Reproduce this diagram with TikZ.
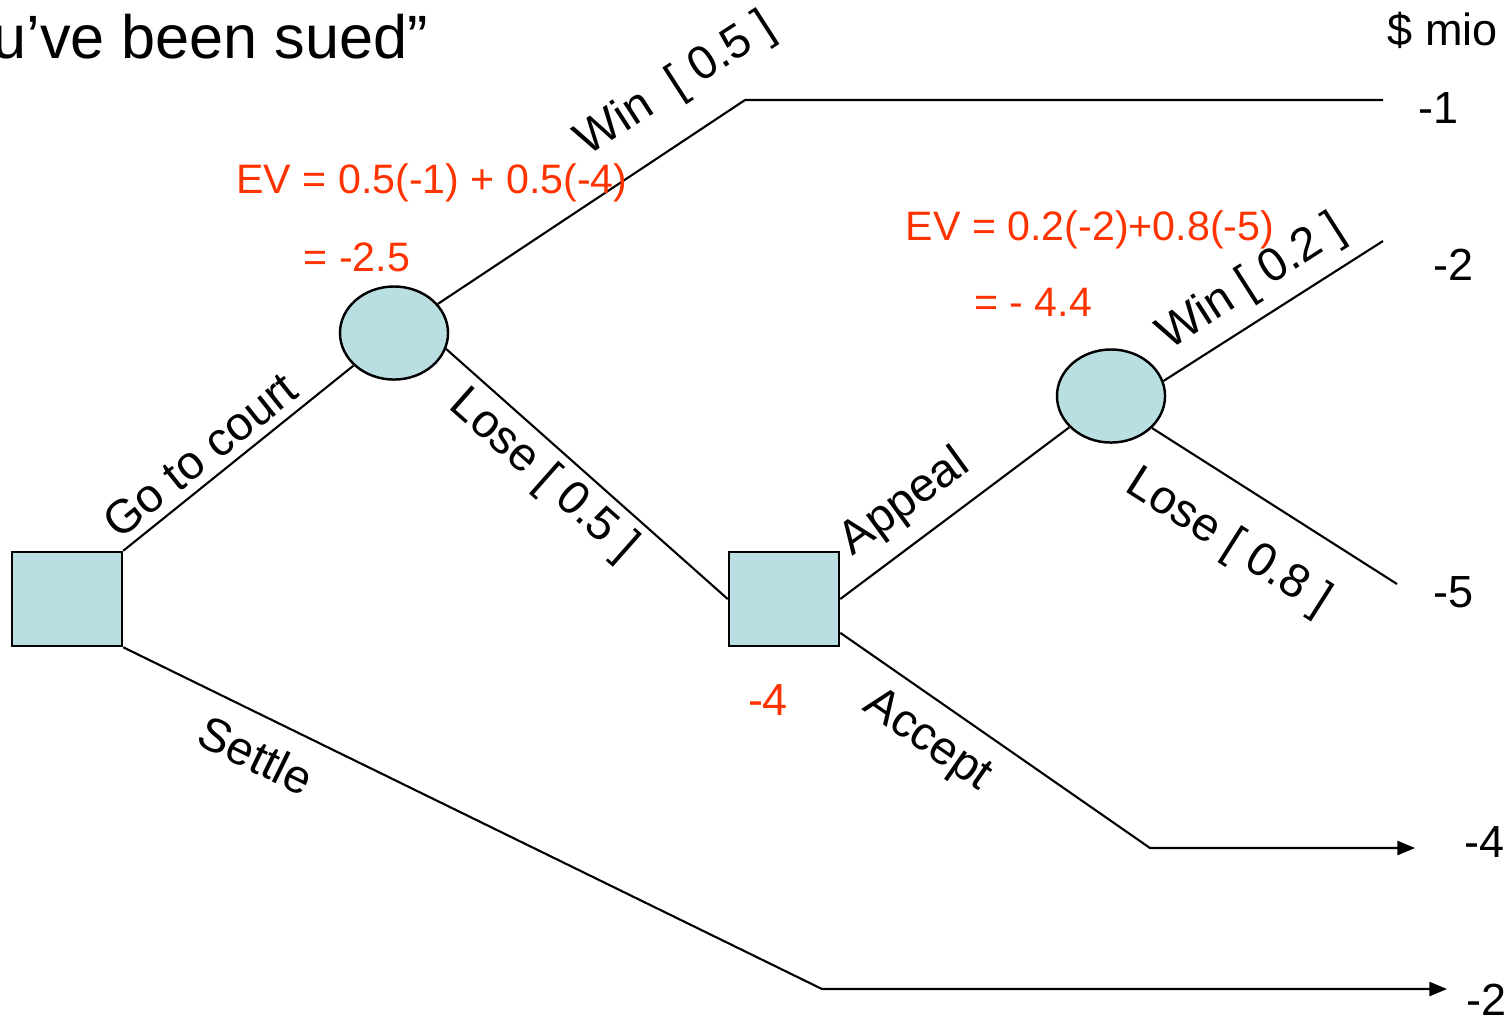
\documentclass[tikz,border=0pt]{standalone}
\usepackage{fontspec}
\setmainfont{Liberation Sans}
\usepackage{tikz}
\usetikzlibrary{shapes.geometric,arrows.meta}
\definecolor{nodefill}{RGB}{185,223,227}
\definecolor{evred}{RGB}{255,51,0}

\begin{document}
\begin{tikzpicture}[x=0.01cm,y=-0.01cm,
			decision/.style={rectangle,draw,line width=0.7pt,fill=nodefill,minimum width=1.1cm,minimum height=0.94cm,inner sep=0pt},
			chance/.style={ellipse,draw,line width=0.7pt,fill=nodefill,minimum width=1.08cm,minimum height=0.93cm,inner sep=0pt},
			lbl/.style={inner sep=0pt,font=\fontsize{13.4}{16}\selectfont},
			ev/.style={inner sep=0pt,text=evred,font=\fontsize{11.7}{14}\selectfont},
			payoff/.style={inner sep=0pt,font=\fontsize{12.8}{15}\selectfont},
			branch/.style={line width=0.6pt},
			tip/.style={-{Triangle[length=5pt,width=4pt]}}]
	\useasboundingbox (0,0) rectangle (1510,1029);
	\node[anchor=base west,inner sep=0pt,font=\fontsize{17.4}{20}\selectfont] (title) at (-8,58) {u’ve been sued”};
	% decision and chance nodes
	\node[decision] (sq1) at (67,599) {};
	\node[chance] (c1) at (394,333) {};
	\node[decision] (sq2) at (784,599) {};
	\node[chance] (c2) at (1111,396) {};
	% free ends of the branches
	\coordinate (w1) at (745,100);
	\coordinate (w1e) at (1383,100);
	\coordinate (w2) at (1383,241);
	\coordinate (l2) at (1397,584);
	\coordinate (ac) at (1150,848);
	\coordinate (ace) at (1415,848);
	\coordinate (st) at (822,989);
	\coordinate (ste) at (1447,989);
	% branches
	\draw[branch] (sq1.north east) -- (c1);
	\draw[branch] (c1) -- (w1) -- (w1e);
	\draw[branch] (c1.-17) -- (sq2.west);
	\draw[branch] (sq2.east) -- (c2);
	\draw[branch] (c2.16) -- (w2);
	\draw[branch] (c2.-38) -- (l2);
	\draw[branch,tip] (sq2.-31) -- (ac) -- (ace);
	\draw[branch,tip] (sq1.south east) -- (st) -- (ste);
	% branch labels
	\node[lbl,rotate=38.6] (lgo) at (200,455) {Go to court};
	\node[lbl,rotate=32.8] (lwin1) at (676,85) {Win~~[ 0.5 ]};
	\node[lbl,rotate=-41.5] (llose1) at (543,476) {Lose [ 0.5 ]};
	\node[lbl,rotate=36] (lapp) at (905,503) {Appeal};
	\node[lbl,rotate=32.6] (lwin2) at (1252,283) {Win [ 0.2 ]};
	\node[lbl,rotate=-32.4] (llose2) at (1228,543) {Lose [ 0.8 ]};
	\node[lbl,rotate=-34.8] (lacc) at (927,741) {Accept};
	\node[lbl,rotate=-26.1] (lset) at (256,755) {Settle};
	% expected values
	\node[ev] (ev1) at (432,183) {EV = 0.5(-1) + 0.5(-4)};
	\node[ev] (ev1r) at (357,257) {= -2.5};
	\node[ev] (ev2) at (1090,230) {EV = 0.2(-2)+0.8(-5)};
	\node[ev] (ev2r) at (1033,302) {= - 4.4};
	\node[payoff,text=evred] (acc) at (768,700) {-4};
	% payoffs
	\node[payoff] (unit) at (1443,30) {\$ mio};
	\node[payoff] (p1) at (1438,108) {-1};
	\node[payoff] (p2) at (1453,265) {-2};
	\node[payoff] (p5) at (1453,592) {-5};
	\node[payoff] (p4) at (1484,842) {-4};
	\node[payoff] (p2s) at (1486,1000) {-2};
\end{tikzpicture}
\end{document}
